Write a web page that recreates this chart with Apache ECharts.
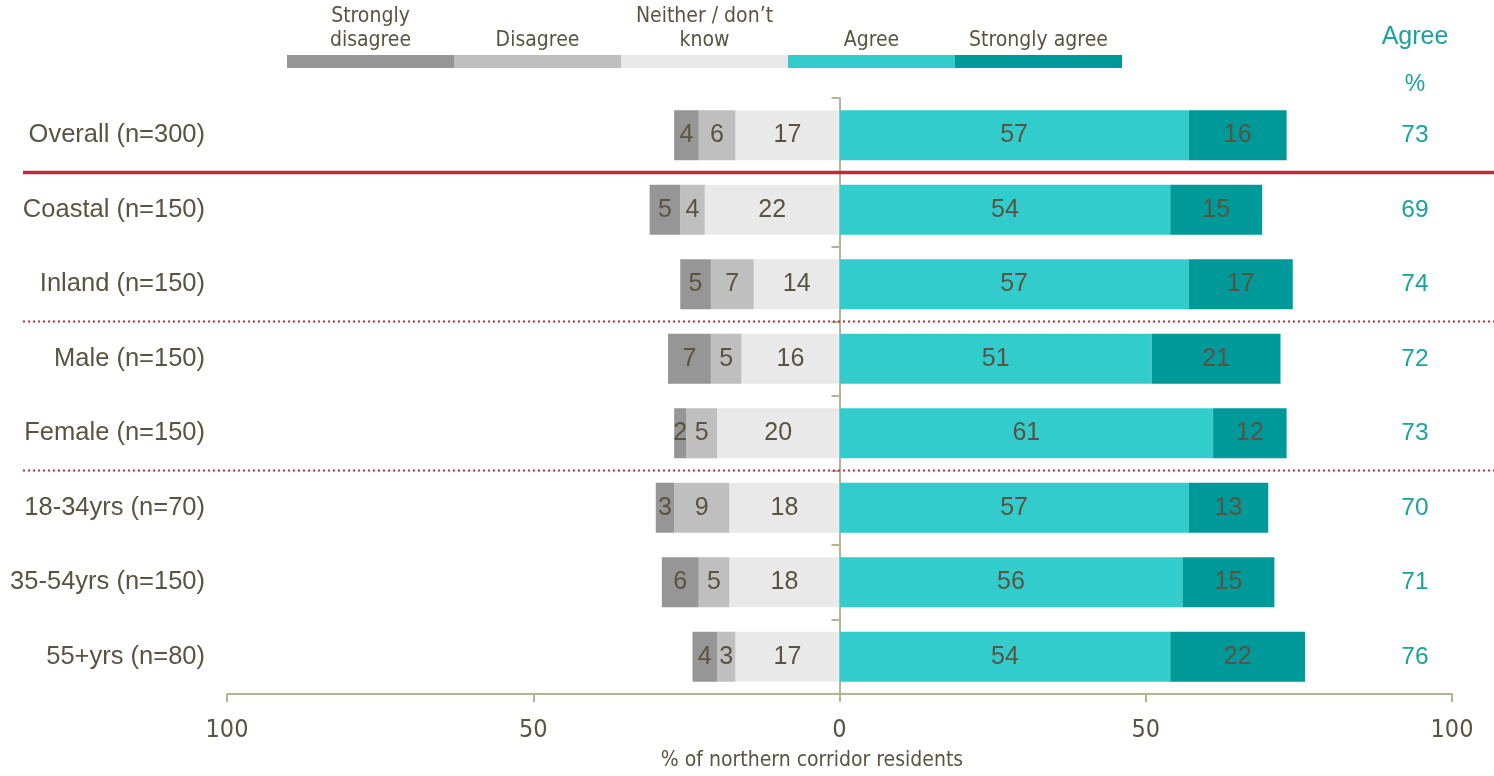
<!DOCTYPE html>
<html>
<head>
<meta charset="utf-8">
<script src="https://cdn.jsdelivr.net/npm/echarts@6/dist/echarts.min.js"></script>
<style>html,body{margin:0;padding:0;background:#fff;}#c{width:1494px;height:776px;}</style>
</head>
<body>
<div id="c"></div>
<script>
const categories = ['Overall (n=300)', 'Coastal (n=150)', 'Inland (n=150)', 'Male (n=150)', 'Female (n=150)', '18-34yrs (n=70)', '35-54yrs (n=150)', '55+yrs (n=80)'];
const seriesNames = ['Strongly disagree', 'Disagree', 'Neither / don\u2019t know', 'Agree', 'Strongly agree'];
const legendLabels = ['Strongly\ndisagree', 'Disagree', 'Neither / don\u2019t\nknow', 'Agree', 'Strongly agree'];
const stronglyDisagree = [4, 5, 5, 7, 2, 3, 6, 4];
const disagree = [6, 4, 7, 5, 5, 9, 5, 3];
const neither = [17, 22, 14, 16, 20, 18, 18, 17];
const agree = [57, 54, 57, 51, 61, 57, 56, 54];
const stronglyAgree = [16, 15, 17, 21, 12, 13, 15, 22];
const agreeTotal = [73, 69, 74, 72, 73, 70, 71, 76];
const colors = ['#969696', '#bfbfbf', '#e9e9e9', '#33cccc', '#009999'];

const textColor = '#595441';
const teal = '#1aa39f';
const axisColor = '#b4b493';
const narrow = "'Liberation Sans Narrow', 'DejaVu Sans Condensed', sans-serif";
const sans = "'Liberation Sans', Arial, sans-serif";

const chart = echarts.init(document.getElementById('c'));

function mkSeries(name, data, color, neg) {
  return {
    name: name,
    type: 'bar',
    stack: 'total',
    yAxisIndex: 0,
    barWidth: 50,
    data: data.map(v => neg ? -v : v),
    itemStyle: { color: color },
    label: {
      show: true,
      position: 'inside',
      formatter: p => Math.abs(p.value),
      color: textColor,
      fontSize: 25,
      fontFamily: sans
    },
    emphasis: { disabled: true }
  };
}

const legendGraphics = [];
const legX = 287, legW = 167;
seriesNames.forEach((n, i) => {
  legendGraphics.push({
    type: 'rect', id: 'lr' + i,
    shape: { x: legX + legW * i, y: 55, width: legW, height: 13 },
    style: { fill: colors[i] }
  });
  legendGraphics.push({
    type: 'text', id: 'lt' + i,
    x: legX + legW * i + legW / 2, y: 53,
    style: { text: legendLabels[i], fill: textColor, font: '21px ' + narrow, align: 'center', verticalAlign: 'bottom', lineHeight: 24 }
  });
});
legendGraphics.push({
  type: 'text', id: 'h1', x: 1415, y: 37,
  style: { text: 'Agree', fill: teal, font: '25px ' + sans, align: 'center', verticalAlign: 'middle' }
});
legendGraphics.push({
  type: 'text', id: 'h2', x: 1415, y: 85,
  style: { text: '%', fill: teal, font: '23px ' + sans, align: 'center', verticalAlign: 'middle' }
});

chart.setOption({
  animation: false,
  grid: { left: 227, right: 42, top: 98, bottom: 81, containLabel: false },
  xAxis: {
    type: 'value', min: -100, max: 100, interval: 50,
    axisLine: { show: true, lineStyle: { color: axisColor, width: 2 } },
    axisTick: { show: true, length: 8, lineStyle: { color: axisColor, width: 2 } },
    splitLine: { show: false },
    axisLabel: { formatter: v => Math.abs(v), color: textColor, fontSize: 25, fontFamily: narrow, margin: 24 },
    name: '% of northern corridor residents',
    nameLocation: 'middle',
    nameGap: 56,
    nameTextStyle: { color: textColor, fontSize: 21, fontFamily: narrow, padding: [0, 55, 0, 0] }
  },
  yAxis: [
    {
      type: 'category', data: categories, inverse: true,
      axisLine: { show: false, onZero: false },
      axisTick: { show: false },
      axisLabel: { color: textColor, fontSize: 25.5, fontFamily: sans, margin: 22 }
    },
    {
      type: 'category', data: categories, inverse: true, position: 'left',
      axisLine: { show: true, onZero: true, lineStyle: { color: axisColor, width: 2 } },
      axisTick: { show: true, length: 8, lineStyle: { color: axisColor, width: 2 } },
      axisLabel: { show: false }
    },
    {
      type: 'category', data: categories, inverse: true, position: 'right',
      axisLine: { show: false, onZero: false },
      axisTick: { show: false },
      axisLabel: { formatter: (v, i) => agreeTotal[i], color: teal, fontSize: 24.5, fontFamily: sans, margin: -37, align: 'center' }
    }
  ],
  series: [
    mkSeries(seriesNames[2], neither, colors[2], true),
    mkSeries(seriesNames[1], disagree, colors[1], true),
    mkSeries(seriesNames[0], stronglyDisagree, colors[0], true),
    mkSeries(seriesNames[3], agree, colors[3], false),
    mkSeries(seriesNames[4], stronglyAgree, colors[4], false)
  ],
  graphic: legendGraphics
});

// separator lines between groups (band boundaries)
function boundary(i) {
  const a = chart.convertToPixel({ yAxisIndex: 0 }, i);
  const b = chart.convertToPixel({ yAxisIndex: 0 }, i + 1);
  return (a + b) / 2;
}
const sepAfter = [0, 2, 4];
const sepGraphics = sepAfter.map((idx, k) => {
  const y = boundary(idx);
  return {
    type: 'line', id: 'sep' + k,
    shape: { x1: 23, y1: y, x2: 1494, y2: y },
    style: k === 0
      ? { stroke: '#c0283c', lineWidth: 3.5 }
      : { stroke: '#c8283c', lineWidth: 2, lineDash: [2, 3] },
    z: 10
  };
});
chart.setOption({ graphic: legendGraphics.concat(sepGraphics) });
</script>
</body>
</html>
